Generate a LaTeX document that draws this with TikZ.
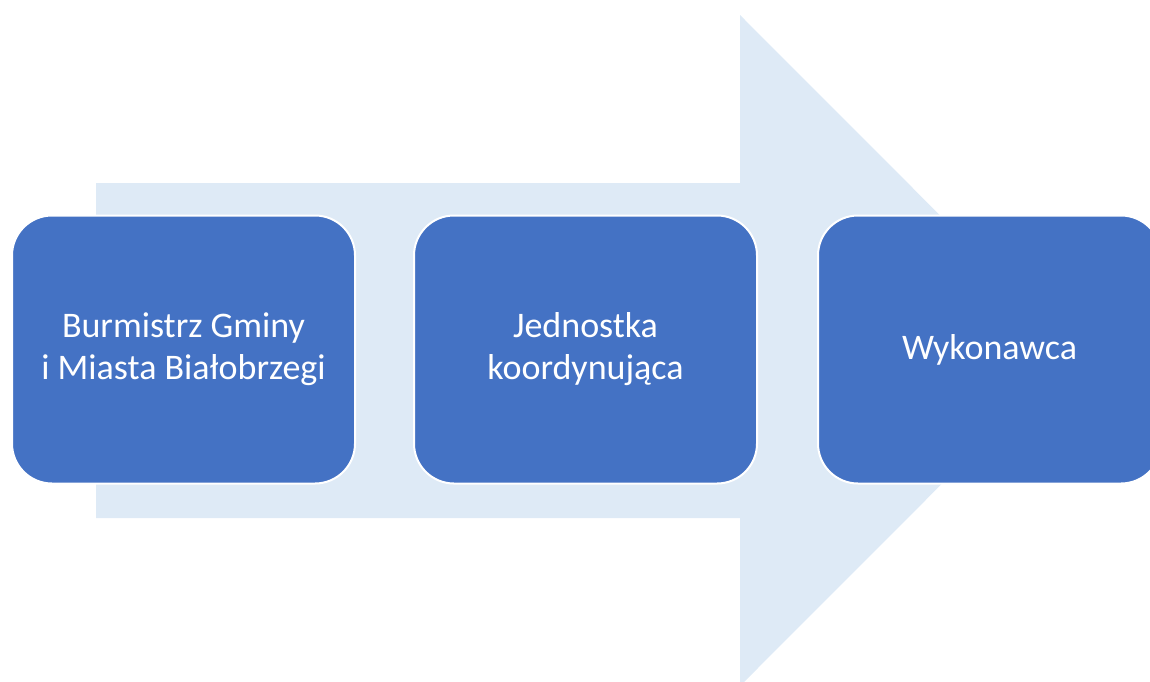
\documentclass[tikz,border=0pt]{standalone}
\usepackage{fontspec}
\setmainfont{Carlito}
\usetikzlibrary{positioning}
\definecolor{arrowfill}{HTML}{DEEAF6}
\definecolor{boxfill}{HTML}{4472C4}
\tikzset{Step Box/.style={draw=white, line width=2pt, fill=boxfill, text=white, rounded corners=40pt,
		minimum width=343pt, minimum height=268pt, align=center, inner sep=0pt,
		font=\fontsize{36}{42}\selectfont}}

\begin{document}
\begin{tikzpicture}[x=1pt,y=-1pt]
		\clip (0,0) rectangle (1150,681);
		% big background arrow
		\fill[arrowfill] (96,183) -- (740,183) -- (740,15) -- (1075,350.5) -- (740,686) --
		(740,518) -- (96,518) -- cycle;
		
		\node[Step Box] (burmistrz) at (183.5,349.5) {Burmistrz Gminy\\i Miasta Białobrzegi};
		\node[Step Box, right=57pt of burmistrz] (jednostka) {Jednostka\\koordynująca};
		\node[Step Box, right=59pt of jednostka] (wykonawca) {Wykonawca};
	\end{tikzpicture}
\end{document}
